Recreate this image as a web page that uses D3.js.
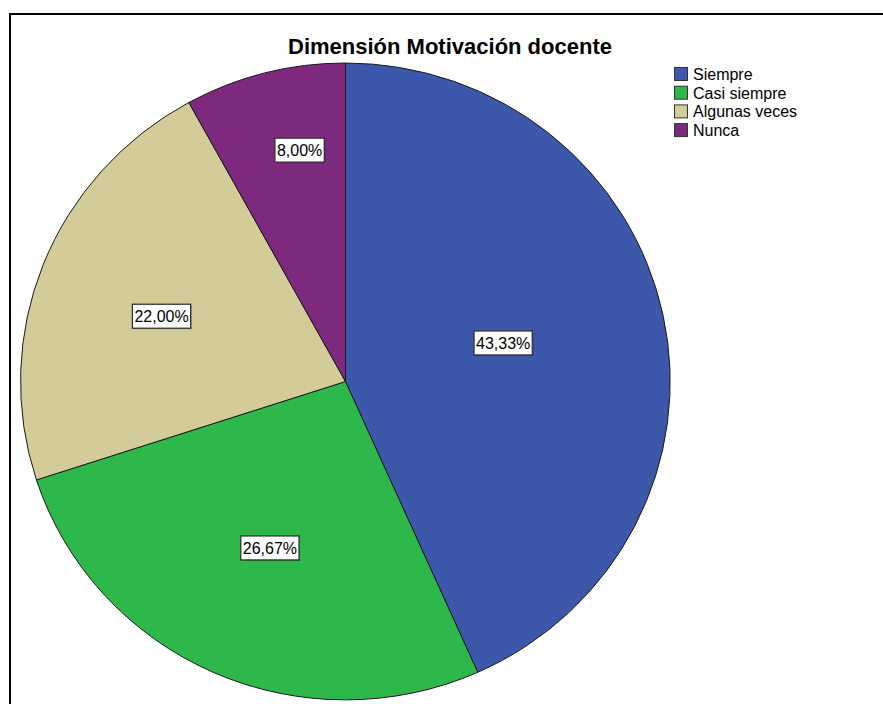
<!DOCTYPE html>
<html>
<head>
<meta charset="utf-8">
<script src="https://cdn.jsdelivr.net/npm/d3@7"></script>
<style>
  html, body { margin: 0; padding: 0; background: #fff; }
  svg { display: block; }
</style>
</head>
<body>
<script>
const title = "Dimensión Motivación docente";
const categories = ["Siempre", "Casi siempre", "Algunas veces", "Nunca"];
const values = [43.33, 26.67, 22.00, 8.00];
const labels = ["43,33%", "26,67%", "22,00%", "8,00%"];
const colors = ["#3d58aa", "#2eb84b", "#d4cc98", "#7c297e"];
// layout: radial fraction and angular nudge (deg) of each value label
const labelRadius = [0.50, 0.572, 0.602, 0.74];
const labelNudge = [-2, 0, -1.7, 3.4];

const W = 883, H = 704;
const cx = 345.5, cy = 381.5, rx = 325, ry = 318.5;
const FONT = "Liberation Sans, Arial, sans-serif";

const svg = d3.select("body").append("svg").attr("width", W).attr("height", H);

// frame
svg.append("rect").attr("x", 10).attr("y", 14).attr("width", 900).attr("height", 800)
  .attr("fill", "#fff").attr("stroke", "#000").attr("stroke-width", 2);

const pie = d3.pie().sort(null).value(d => d)(values);
const arc = d3.arc().innerRadius(0).outerRadius(1);

const g = svg.append("g").attr("transform", `translate(${cx},${cy}) scale(${rx},${ry})`);
g.selectAll("path").data(pie).join("path")
  .attr("d", arc)
  .attr("fill", (d, i) => colors[i])
  .attr("stroke", "#1a1a1a")
  .attr("stroke-width", 1)
  .attr("vector-effect", "non-scaling-stroke");

// labels
const lg = svg.append("g");
pie.forEach((d, i) => {
  const a = (d.startAngle + d.endAngle) / 2 + labelNudge[i] * Math.PI / 180;
  const x = cx + rx * labelRadius[i] * Math.sin(a);
  const y = cy - ry * labelRadius[i] * Math.cos(a);
  const t = lg.append("text").attr("x", x).attr("y", y + 0.5)
    .attr("text-anchor", "middle").attr("dominant-baseline", "central")
    .attr("font-family", FONT).attr("font-size", 16)
    .attr("fill", "#000").text(labels[i]);
  const bb = t.node().getBBox();
  const w = bb.width + 4, h = 24;
  lg.insert("rect", "text")
    .attr("x", x - w / 2 + 1).attr("y", y - h / 2 + 1).attr("width", w).attr("height", h)
    .attr("fill", "rgba(0,0,0,0.25)");
  lg.insert("rect", "text")
    .attr("x", x - w / 2).attr("y", y - h / 2).attr("width", w).attr("height", h)
    .attr("fill", "#fff").attr("stroke", "#333").attr("stroke-width", 1.3);
});

// title
svg.append("text").attr("x", 450).attr("y", 54)
  .attr("text-anchor", "middle")
  .attr("font-family", FONT)
  .attr("font-weight", "bold").attr("font-size", 22)
  .attr("fill", "#000").text(title);

// legend
const leg = svg.append("g").attr("transform", "translate(674,67)");
categories.forEach((c, i) => {
  const row = leg.append("g").attr("transform", `translate(0,${i * 18.7})`);
  row.append("rect").attr("x", 0.5).attr("y", 0.5).attr("width", 13).attr("height", 13)
    .attr("fill", colors[i]).attr("stroke", "#333").attr("stroke-width", 1);
  row.append("text").attr("x", 19).attr("y", 7.5)
    .attr("dominant-baseline", "central")
    .attr("font-family", FONT).attr("font-size", 16)
    .attr("fill", "#000").text(c);
});
</script>
</body>
</html>
